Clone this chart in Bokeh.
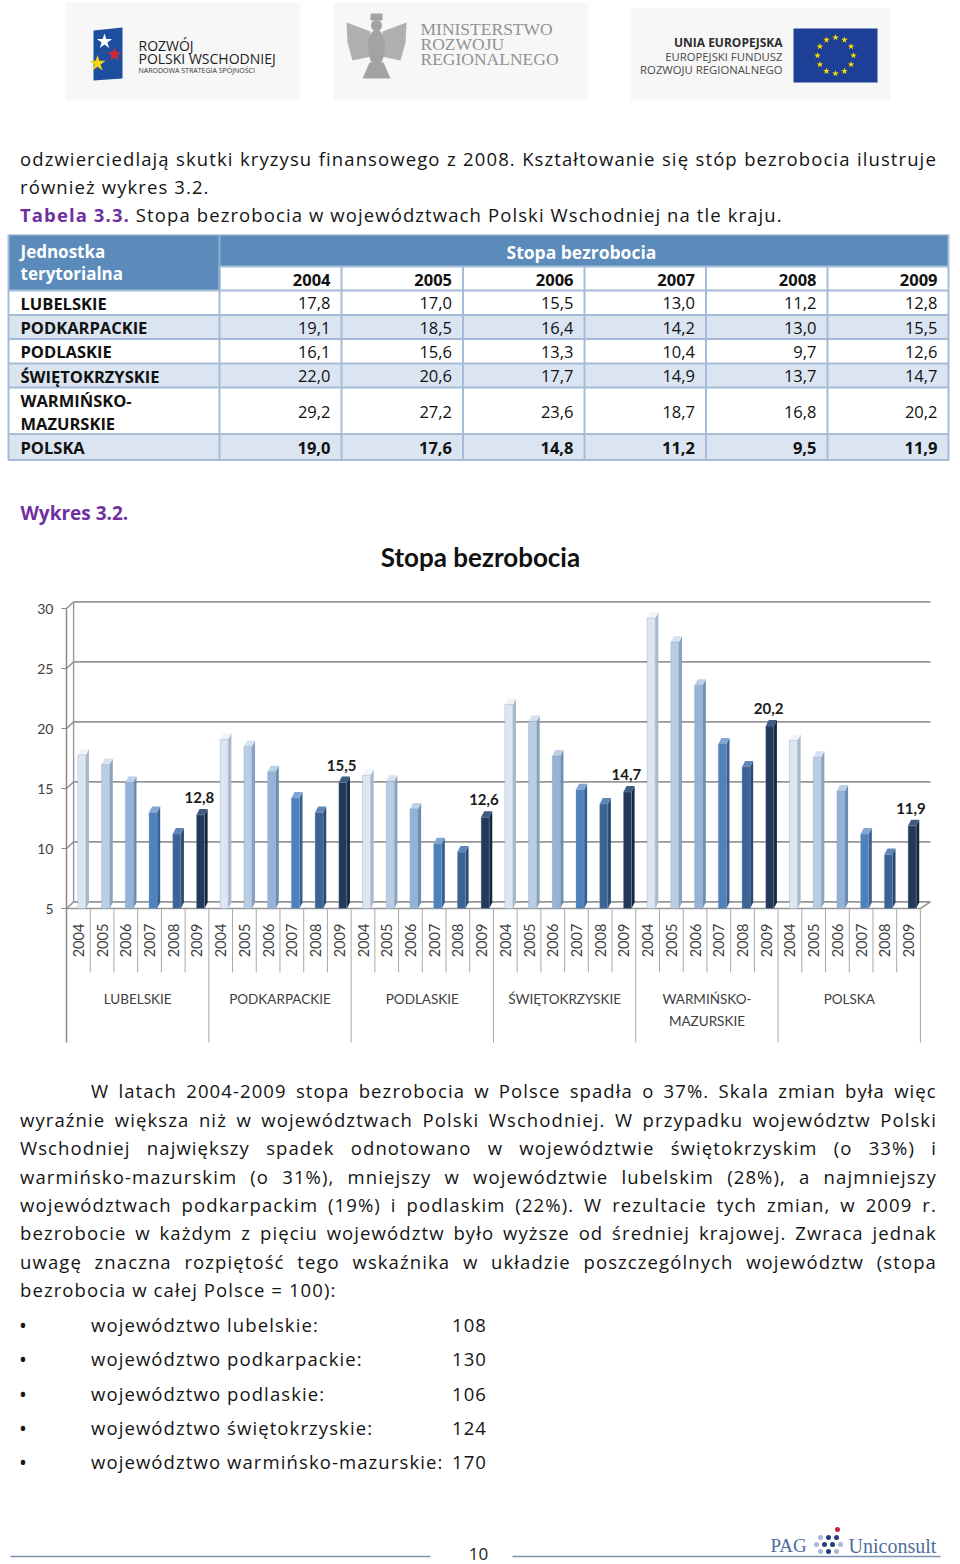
from math import pi, cos, sin
from bokeh.plotting import figure
from bokeh.models import Range1d, FixedTicker, Div, LinearAxis
from bokeh.layouts import column
from bokeh.core.properties import value
from bokeh.embed import file_html
from bokeh.resources import INLINE

# ---------------- DATA ----------------
regions = ["LUBELSKIE", "PODKARPACKIE", "PODLASKIE", "ŚWIĘTOKRZYSKIE", "WARMIŃSKO-MAZURSKIE", "POLSKA"]
years = ["2004", "2005", "2006", "2007", "2008", "2009"]
lubelskie = [17.8, 17.0, 15.5, 13.0, 11.2, 12.8]
podkarpackie = [19.1, 18.5, 16.4, 14.2, 13.0, 15.5]
podlaskie = [16.1, 15.6, 13.3, 10.4, 9.7, 12.6]
swietokrzyskie = [22.0, 20.6, 17.7, 14.9, 13.7, 14.7]
warminsko_mazurskie = [29.2, 27.2, 23.6, 18.7, 16.8, 20.2]
polska = [19.0, 17.6, 14.8, 11.2, 9.5, 11.9]
y_ticks = [5, 10, 15, 20, 25, 30]
index_labels = ["województwo lubelskie:", "województwo podkarpackie:", "województwo podlaskie:",
                "województwo świętokrzyskie:", "województwo warmińsko-mazurskie:"]
index_values = [108, 130, 106, 124, 170]

series = [lubelskie, podkarpackie, podlaskie, swietokrzyskie, warminsko_mazurskie, polska]

W = 960
FONT = "Open Sans"
CFONT = "Lato"
PURPLE = "#7030a0"


def pl(v):
    return f"{v:.1f}".replace(".", ",")


def page_fig(h, y0):
    p = figure(width=W, height=h, x_range=Range1d(0, W), y_range=Range1d(y0 + h, y0),
               output_backend="svg", toolbar_location=None, min_border=0,
               x_axis_location=None, y_axis_location=None, outline_line_color=None,
               background_fill_color="white", border_fill_color="white", margin=0)
    p.grid.visible = False
    return p


def txt(p, x, y, t, size, color="#1a1a1a", font=FONT, style="normal", align="left",
        baseline="middle", angle=0):
    p.text(x=[x], y=[y], text=[t], text_font=value(font), text_font_size=f"{size}px",
           text_font_style=style, text_color=color, text_align=align,
           text_baseline=baseline, angle=angle)


# ---------------- LOGOS ----------------
logo = page_fig(130, 0)
logo.quad(left=[65, 333, 630], right=[300, 588, 890], top=[2, 2, 8], bottom=[100, 100, 100],
          fill_color="#f7f7f7", line_color=None)
# left logo
logo.patch(x=[93, 122, 122, 93], y=[30, 27, 78, 80], fill_color="#1e4f9f", line_color=None)
logo.scatter(x=[104], y=[41], marker="star", size=16, fill_color="white", line_color=None)
logo.scatter(x=[114], y=[54], marker="star", size=15, fill_color="#d7262e", line_color=None)
logo.scatter(x=[97], y=[63], marker="star", size=17, fill_color="#f6d11a", line_color=None)
txt(logo, 138, 45, "ROZWÓJ", 14, "#1b1b1b")
txt(logo, 138, 58, "POLSKI WSCHODNIEJ", 14, "#1b1b1b")
txt(logo, 138, 70, "NARODOWA STRATEGIA SPÓJNOŚCI", 7, "#333333")
# middle logo (eagle)
eg = "#a3a3a3"
logo.quad(left=[370], right=[382], top=[13], bottom=[20], fill_color=eg, line_color=None)
logo.ellipse(x=[376], y=[25], width=11, height=11, fill_color=eg, line_color=None)
logo.ellipse(x=[376], y=[47], width=17, height=36, fill_color=eg, line_color=None)
logo.patches(xs=[[370, 346, 347, 352, 371], [382, 406, 405, 400, 381]],
             ys=[[31, 22, 42, 60, 56], [31, 22, 42, 60, 56]], fill_color=eg, line_color=None, alpha=0.85)
logo.patch(x=[369, 383, 390, 362], y=[62, 62, 78, 78], fill_color=eg, line_color=None)
txt(logo, 420, 28, "MINISTERSTWO", 17.5, "#929292", font="Liberation Serif")
txt(logo, 420, 43, "ROZWOJU", 17.5, "#929292", font="Liberation Serif")
txt(logo, 420, 58, "REGIONALNEGO", 17.5, "#929292", font="Liberation Serif")
# right logo
txt(logo, 782, 42, "UNIA EUROPEJSKA", 12, "#2e2e2e", style="bold", align="right")
txt(logo, 782, 56, "EUROPEJSKI FUNDUSZ", 11.3, "#4a4a4a", align="right")
txt(logo, 782, 69, "ROZWOJU REGIONALNEGO", 11.3, "#4a4a4a", align="right")
logo.quad(left=[793], right=[877], top=[28], bottom=[82], fill_color="#1d3f95", line_color=None)
sx = [835 + 18 * cos(2 * pi * k / 12) for k in range(12)]
sy = [55 + 18 * sin(2 * pi * k / 12) for k in range(12)]
logo.scatter(x=sx, y=sy, marker="star", size=7, fill_color="#ffdd00", line_color=None)

# ---------------- TEXT HELPERS (HTML) ----------------
def jline(text, left, top, width):
    spans = "".join(f"<span>{w}</span>" for w in text.split(" "))
    return (f'<div style="position:absolute;left:{left}px;top:{top}px;width:{width}px;height:28px;'
            f'line-height:28px;display:flex;justify-content:space-between;white-space:nowrap;">{spans}</div>')


def lline(html, left, top, extra=""):
    return (f'<div style="position:absolute;left:{left}px;top:{top}px;height:28px;line-height:28px;'
            f'white-space:nowrap;{extra}">{html}</div>')


def box(inner, h):
    return (f'<div style="position:relative;width:{W}px;height:{h}px;overflow:hidden;'
            f'font-family:\'{FONT}\';font-size:18.5px;letter-spacing:1.1px;color:#141414;">{inner}</div>')


top_html = box(
    jline("odzwierciedlają skutki kryzysu finansowego z 2008. Kształtowanie się stóp bezrobocia ilustruje",
          20, 15, 917)
    + lline("również wykres 3.2.", 20, 43)
    + lline(f'<span style="color:{PURPLE};font-weight:bold;">Tabela 3.3.</span> '
            "Stopa bezrobocia w województwach Polski Wschodniej na tle kraju.", 20, 71),
    104)
top_div = Div(text=top_html, width=W, height=104, margin=0)

# ---------------- TABLE ----------------
tab = page_fig(291, 234)
col_edges = [8, 219, 341, 462.5, 584, 705.5, 827, 948]
row_edges = [290, 314.5, 338.5, 363, 387, 433.5, 459.5]
HEAD = "#5b8bbb"
ALT = "#dbe5f1"
GRIDC = "#a4bcd8"
tab.quad(left=[8, 219], right=[219, 948], top=[234, 234], bottom=[290, 266], fill_color=HEAD, line_color=None)
tab.quad(left=[219], right=[948], top=[266], bottom=[290], fill_color="white", line_color=None)
tab.quad(left=[8] * 6, right=[948] * 6, top=row_edges[:-1], bottom=row_edges[1:],
         fill_color=["white", ALT, "white", ALT, "white", ALT], line_color=None)
tab.segment(x0=col_edges[1:-1], y0=[266] * 6, x1=col_edges[1:-1], y1=[459.5] * 6, line_color=GRIDC, line_width=2)
tab.segment(x0=[219], y0=[234], x1=[219], y1=[290], line_color="#8fb0d4", line_width=2)
tab.segment(x0=[8] * 7, y0=row_edges, x1=[948] * 7, y1=row_edges, line_color=GRIDC, line_width=2)
tab.segment(x0=[219], y0=[266], x1=[948], y1=[266], line_color=GRIDC, line_width=2)
tab.quad(left=[8], right=[948], top=[234], bottom=[459.5], fill_color=None, line_color=GRIDC, line_width=2)
txt(tab, 20, 251, "Jednostka", 17, "white", style="bold")
txt(tab, 20, 273, "terytorialna", 17, "white", style="bold")
txt(tab, 506, 251, "Stopa bezrobocia", 17.5, "white", style="bold")
rights = [c - 11 for c in col_edges[2:]]
for k, yr in enumerate(years):
    txt(tab, rights[k], 279, yr, 16.5, "#111111", style="bold", align="right")
for i, (reg, vals) in enumerate(zip(regions, series)):
    yc = (row_edges[i] + row_edges[i + 1]) / 2 + 0.5
    st = "bold" if reg == "POLSKA" else "normal"
    if "-" in reg:
        a, b = reg.split("-")
        txt(tab, 20, yc - 11, a + "-", 16.5, "#111111", style="bold")
        txt(tab, 20, yc + 12, b, 16.5, "#111111", style="bold")
    else:
        txt(tab, 20, yc, reg, 16.5, "#111111", style="bold")
    for k, v in enumerate(vals):
        txt(tab, rights[k], yc + (1 if "-" in reg else 0), pl(v), 16.5, "#111111", style=st, align="right")
txt(tab, 20, 512, "Wykres 3.2.", 19, PURPLE, style="bold")

# ---------------- CHART ----------------
S = 23.72      # px per bar slot
X0 = 66        # page x of the category axis start
PY = 12.0      # px per unit
Y5 = 908       # page y of value 5
CT, CH = 525, 523
def vy(page_y):
    return 5 + (Y5 - page_y) / PY

chart = figure(width=W, height=CH, x_range=Range1d(-X0 / S, (W - X0) / S),
               y_range=Range1d(vy(CT + CH), vy(CT)),
               output_backend="svg", toolbar_location=None, min_border=0,
               x_axis_location=None, y_axis_location=None,
               outline_line_color=None, background_fill_color="white", border_fill_color="white", margin=0)
chart.grid.visible = False
ax = LinearAxis(fixed_location=0, ticker=FixedTicker(ticks=y_ticks))
ax.axis_line_color = None
ax.major_tick_line_color = "#868686"
ax.major_tick_out = 5
ax.major_tick_in = 0
ax.minor_tick_line_color = None
ax.major_label_text_font = CFONT
ax.major_label_text_font_size = "14px"
ax.major_label_text_color = "#404040"
ax.major_label_standoff = 8
chart.add_layout(ax, "left")

n_slots = len(regions) * len(years)
x_end = n_slots + 10 / S
D_X, D_Y = 0.3, 0.55  # 3D depth
GC = "#969696"
chart.segment(x0=[0] * 6, y0=y_ticks, x1=[D_X] * 6, y1=[t + D_Y for t in y_ticks], line_color=GC, line_width=1.6)
chart.segment(x0=[D_X] * 6, y0=[t + D_Y for t in y_ticks], x1=[x_end] * 6, y1=[t + D_Y for t in y_ticks],
              line_color=GC, line_width=1.6)
chart.segment(x0=[D_X], y0=[y_ticks[0] + D_Y], x1=[D_X], y1=[y_ticks[-1] + D_Y], line_color=GC, line_width=1.4)
chart.segment(x0=[0, n_slots], y0=[5, 5], x1=[n_slots, x_end], y1=[5, 5 + D_Y], line_color=GC, line_width=1.6)

front = ["#dce6f2", "#b9cde5", "#95b3d7", "#4f81bd", "#3a6496", "#22395b"]
side = ["#a9b8ca", "#8aa2bf", "#6b8cb4", "#375f8f", "#284a71", "#142741"]
cap = ["#f1f5fa", "#d6e2f0", "#bcd0e8", "#81a6d4", "#5d85b7", "#3f5b82"]

bx, bt, bc, sxs, sys_, sc, cxs, cys, ccol = [], [], [], [], [], [], [], [], []
for g, vals in enumerate(series):
    for j, v in enumerate(vals):
        c = g * len(years) + j + 0.5 + 0.15
        bx.append(c); bt.append(v); bc.append(front[j])
        sxs.append([c + 0.17, c + 0.30, c + 0.30, c + 0.17])
        sys_.append([5, 5 + 0.5, v + 0.5, v]); sc.append(side[j])
        cxs.append([c - 0.17, c + 0.17, c + 0.30, c - 0.04])
        cys.append([v, v, v + 0.5, v + 0.5]); ccol.append(cap[j])

chart.patches(xs=sxs, ys=sys_, fill_color=sc, line_color=None)
chart.patches(xs=cxs, ys=cys, fill_color=ccol, line_color=None)
chart.vbar(x=bx, top=bt, bottom=5, width=0.34, fill_color=bc, line_color="#8c9db3", line_width=0.6, line_alpha=0.6)

lab_x = [g * len(years) + len(years) - 1 + 0.5 + 0.1 for g in range(len(regions))]
lab_y = [vals[-1] for vals in series]
chart.text(x=lab_x, y=lab_y, text=[pl(v) for v in lab_y], text_font=value(CFONT), text_font_size="15px",
           text_font_style="bold", text_color="#1a1a1a", text_align="center", text_baseline="bottom",
           y_offset=-12)

AXC = "#8a8a8a"
y_bot = vy(1042)
chart.segment(x0=[0], y0=[y_ticks[-1]], x1=[0], y1=[y_bot], line_color=AXC, line_width=1.5)
ysep_x = [g * len(years) + j for g in range(len(regions)) for j in range(1, len(years))]
chart.segment(x0=ysep_x, y0=[5] * len(ysep_x), x1=ysep_x, y1=[vy(972)] * len(ysep_x), line_color="#a8a8a8", line_width=1)
gsep_x = [g * len(years) for g in range(1, len(regions) + 1)]
chart.segment(x0=gsep_x, y0=[5] * len(gsep_x), x1=gsep_x, y1=[y_bot] * len(gsep_x), line_color="#a8a8a8", line_width=1)

yl_x = [g * len(years) + j + 0.5 for g in range(len(regions)) for j in range(len(years))]
yl_t = [years[j] for g in range(len(regions)) for j in range(len(years))]
chart.text(x=yl_x, y=[vy(940)] * len(yl_x), text=yl_t, angle=pi / 2, text_font=value(CFONT), text_font_size="14.5px",
           text_color="#404040", text_align="center", text_baseline="middle")
gl_x, gl_y, gl_t = [], [], []
for g, reg in enumerate(regions):
    cx = g * len(years) + len(years) / 2
    if "-" in reg:
        a, b = reg.split("-")
        gl_x += [cx, cx]; gl_y += [vy(998), vy(1020)]; gl_t += [a + "-", b]
    else:
        gl_x.append(cx); gl_y.append(vy(998)); gl_t.append(reg)
chart.text(x=gl_x, y=gl_y, text=gl_t, text_font=value(CFONT), text_font_size="13.5px",
           text_color="#404040", text_align="center", text_baseline="middle")
chart.text(x=[(480 - X0) / S], y=[vy(556)], text=["Stopa bezrobocia"], text_font=value(CFONT), text_font_size="26px",
           text_font_style="bold", text_color="#111111", text_align="center", text_baseline="middle")

# ---------------- BOTTOM TEXT ----------------
B0 = 1048
para = [
    ("j", "W latach 2004-2009 stopa bezrobocia w Polsce spadła o 37%. Skala zmian była więc", 1091, 91),
    ("j", "wyraźnie większa niż w województwach Polski Wschodniej. W przypadku województw Polski", 1120, 20),
    ("j", "Wschodniej największy spadek odnotowano w województwie świętokrzyskim (o 33%) i", 1148, 20),
    ("j", "warmińsko-mazurskim (o 31%), mniejszy w województwie lubelskim (28%), a najmniejszy", 1177, 20),
    ("j", "województwach podkarpackim (19%) i podlaskim (22%). W rezultacie tych zmian, w 2009 r.", 1205, 20),
    ("j", "bezrobocie w każdym z pięciu województw było wyższe od średniej krajowej. Zwraca jednak", 1233, 20),
    ("j", "uwagę znaczna rozpiętość tego wskaźnika w układzie poszczególnych województw (stopa", 1262, 20),
    ("l", "bezrobocia w całej Polsce = 100):", 1290, 20),
]
inner = ""
for kind, t, yc, left in para:
    top = yc - B0 - 14
    if kind == "j":
        inner += jline(t, left, top, 937 - left)
    else:
        inner += lline(t, left, top)
bullet_y = [1325, 1359, 1394, 1428, 1462]
for lab, val, yc in zip(index_labels, index_values, bullet_y):
    top = yc - B0 - 14
    inner += (lline("•", 19, top, "font-size:21px;") + lline(lab, 91, top)
              + lline(str(val), 452, top))
bottom_div = Div(text=box(inner, 442), width=W, height=442, margin=0)

# ---------------- FOOTER ----------------
foot = page_fig(74, 1490)
foot.segment(x0=[10, 512], y0=[1556, 1556], x1=[430, 940], y1=[1556, 1556], line_color="#7b93b0", line_width=1.5)
txt(foot, 478, 1553, "10", 17, "#222222", align="center")
UC = "#4d6e9b"
txt(foot, 770, 1545, "PAG", 19, UC, font="Liberation Serif")
dx = [820, 828, 836, 816, 824, 832, 840, 820, 828, 836]
dy = [1537, 1537, 1537, 1544, 1544, 1544, 1544, 1551, 1551, 1551]
dc = ["#a8b9d3", "#233f7a", "#233f7a", "#a8b9d3", "#233f7a", "#233f7a", "#a8b9d3", "#a8b9d3", "#233f7a", "#a8b9d3"]
foot.scatter(x=dx, y=dy, size=5, fill_color=dc, line_color=None)
foot.scatter(x=[837], y=[1529], size=5, fill_color="#d0213a", line_color=None)
txt(foot, 848, 1545, "Uniconsult", 20, UC, font="Liberation Serif")

page = column(logo, top_div, tab, chart, bottom_div, foot, spacing=0, margin=0)
open("out.html", "w").write(file_html(page, INLINE))
